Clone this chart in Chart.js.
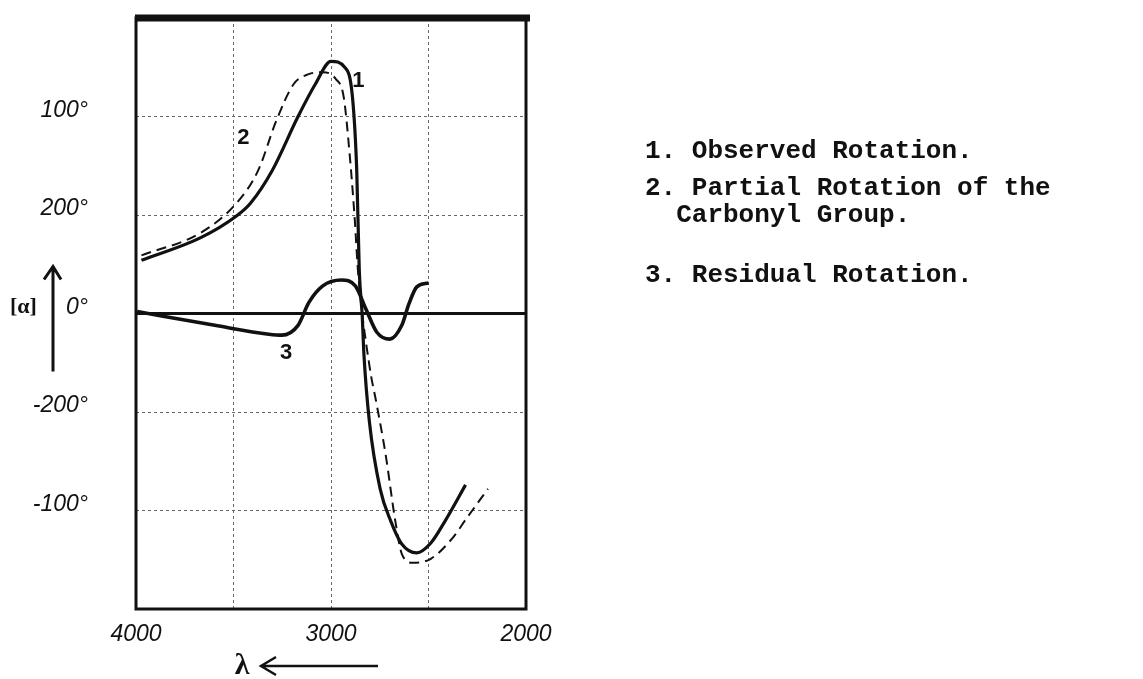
<!DOCTYPE html>
<html>
<head>
<meta charset="utf-8">
<script src="https://cdn.jsdelivr.net/npm/chart.js@4"></script>
<style>
  html, body { margin: 0; padding: 0; background: #fff; }
  #chart { display: block; }
</style>
</head>
<body>
<canvas id="chart" width="1143" height="679"></canvas>
<script>
// Wavelength (Angstrom) and rotation readings for each curve
const lambdaObserved = [3972, 3668, 3485, 3413, 3302, 3169, 3080, 3000, 2930, 2890, 2868, 2855, 2840, 2831, 2803, 2748, 2693, 2637, 2560, 2488, 2416, 2310];
const rotObserved    = [54, 77, 99, 112, 145, 200, 233, 256, 250, 220, 145, 44, -2, -42, -110, -178, -211, -234, -243, -233, -211, -174];

const lambdaCarbonyl = [3972, 3668, 3485, 3374, 3280, 3191, 3114, 3042, 2975, 2935, 2905, 2878, 2862, 2803, 2765, 2720, 2670, 2637, 2582, 2488, 2377, 2305, 2195];
const rotCarbonyl    = [59, 82, 112, 145, 196, 233, 243, 245, 238, 220, 163, 95, 44, -53, -93, -143, -211, -244, -253, -249, -228, -208, -178];

const lambdaResidual = [3994, 3596, 3319, 3252, 3169, 3114, 3042, 2947, 2875, 2820, 2765, 2698, 2637, 2600, 2560, 2500];
const rotResidual    = [2, -12, -21, -22, -12, 11, 28, 34, 28, 4, -19, -26, -12, 10, 27, 31];

// axis ticks (labels as hand-written on the original)
const xTickLabels = [4000, 3000, 2000];
const yTickValues = [200, 100, 0, -100, -200];
const yTickLabels = ['100°', '200°', '0°', '-200°', '-100°'];

// curve numbers written next to the curves
const curveLabels = [
    { text: '2', x: 3450, y: 178 },
    { text: '1', x: 2860, y: 236 },
    { text: '3', x: 3230, y: -40 }
];

const legendLines = [
    '1. Observed Rotation.',
    '2. Partial Rotation of the',
    '  Carbonyl Group.',
    '3. Residual Rotation.'
];

const toPoints = (xs, ys) => xs.map((x, i) => ({ x: x, y: ys[i] }));

const ink = '#111';

// frame, labels and the typed legend
const decorations = {
    id: 'decorations',
    afterDraw(chart) {
        const ctx = chart.ctx;
        const area = chart.chartArea;
        const xs = chart.scales.x;
        const ys = chart.scales.y;
        const y0 = ys.getPixelForValue(0);
        ctx.save();

        // frame
        ctx.strokeStyle = ink;
        ctx.lineWidth = 3;
        ctx.strokeRect(area.left, area.top, area.right - area.left, area.bottom - area.top);
        ctx.lineWidth = 7;
        ctx.beginPath();
        ctx.moveTo(area.left - 1, area.top);
        ctx.lineTo(area.right + 4, area.top);
        ctx.stroke();

        // curve numbers
        ctx.fillStyle = ink;
        ctx.font = 'bold 22px "Liberation Sans"';
        ctx.textAlign = 'center';
        ctx.textBaseline = 'middle';
        curveLabels.forEach(l => {
            ctx.fillText(l.text, xs.getPixelForValue(l.x), ys.getPixelForValue(l.y));
        });

        // [α] with arrow
        ctx.font = 'bold 22px "Liberation Serif"';
        ctx.textAlign = 'left';
        ctx.fillText('[α]', 10, y0 - 6);
        ctx.lineWidth = 3;
        ctx.beginPath();
        ctx.moveTo(53, y0 + 58);
        ctx.lineTo(53, y0 - 46);
        ctx.moveTo(44, y0 - 34);
        ctx.lineTo(53, y0 - 47);
        ctx.lineTo(61, y0 - 34);
        ctx.stroke();

        // λ with arrow
        const ly = area.bottom + 57;
        ctx.font = 'bold 30px "Liberation Serif"';
        ctx.textAlign = 'center';
        ctx.fillText('λ', 242, ly);
        ctx.lineWidth = 2.5;
        ctx.beginPath();
        ctx.moveTo(378, ly);
        ctx.lineTo(262, ly);
        ctx.moveTo(276, ly - 9);
        ctx.lineTo(261, ly);
        ctx.lineTo(276, ly + 9);
        ctx.stroke();

        // typed legend
        ctx.font = 'bold 26px "Liberation Mono"';
        ctx.textAlign = 'left';
        ctx.textBaseline = 'alphabetic';
        const rows = [158, 195, 222, 282];
        legendLines.forEach((t, i) => ctx.fillText(t, 645, rows[i]));

        ctx.restore();
    }
};

new Chart(document.getElementById('chart').getContext('2d'), {
    type: 'line',
    data: {
        datasets: [
            {
                label: 'Zero',
                data: [{ x: 4000, y: 0 }, { x: 2000, y: 0 }],
                borderColor: ink,
                borderWidth: 3,
                pointRadius: 0
            },
            {
                label: '1. Observed Rotation',
                data: toPoints(lambdaObserved, rotObserved),
                borderColor: ink,
                borderWidth: 3.2,
                pointRadius: 0,
                cubicInterpolationMode: 'monotone'
            },
            {
                label: '2. Partial Rotation of the Carbonyl Group',
                data: toPoints(lambdaCarbonyl, rotCarbonyl),
                borderColor: ink,
                borderWidth: 2,
                borderDash: [10, 6],
                pointRadius: 0,
                cubicInterpolationMode: 'monotone'
            },
            {
                label: '3. Residual Rotation',
                data: toPoints(lambdaResidual, rotResidual),
                borderColor: ink,
                borderWidth: 3.6,
                pointRadius: 0,
                cubicInterpolationMode: 'monotone'
            }
        ]
    },
    options: {
        responsive: false,
        animation: false,
        layout: { padding: { top: 18, right: 617, left: 0, bottom: 0 } },
        plugins: {
            legend: { display: false },
            tooltip: { enabled: false }
        },
        scales: {
            x: {
                type: 'linear',
                reverse: true,
                min: 2000,
                max: 4000,
                afterFit(scale) {
                    scale.height = 70;
                    scale.paddingLeft = 0;
                    scale.paddingRight = 0;
                },
                grid: { color: '#666', lineWidth: 1, drawTicks: false },
                border: { display: false, dash: [3, 3] },
                ticks: {
                    stepSize: 500,
                    autoSkip: false,
                    maxRotation: 0,
                    padding: 12,
                    color: ink,
                    font: { family: 'Liberation Sans', size: 23, style: 'italic' },
                    callback: v => xTickLabels.includes(v) ? String(v) : ''
                }
            },
            y: {
                min: -300,
                max: 300,
                afterFit(scale) {
                    scale.width = 136;
                    scale.paddingTop = 0;
                    scale.paddingBottom = 0;
                },
                grid: { color: '#666', lineWidth: 1, drawTicks: false },
                border: { display: false, dash: [3, 3] },
                ticks: {
                    stepSize: 100,
                    autoSkip: false,
                    padding: 48,
                    labelOffset: -6,
                    color: ink,
                    font: { family: 'Liberation Sans', size: 23, style: 'italic' },
                    callback: v => {
                        const i = yTickValues.indexOf(v);
                        return i >= 0 ? yTickLabels[i] : '';
                    }
                }
            }
        }
    },
    plugins: [decorations]
});
</script>
</body>
</html>
